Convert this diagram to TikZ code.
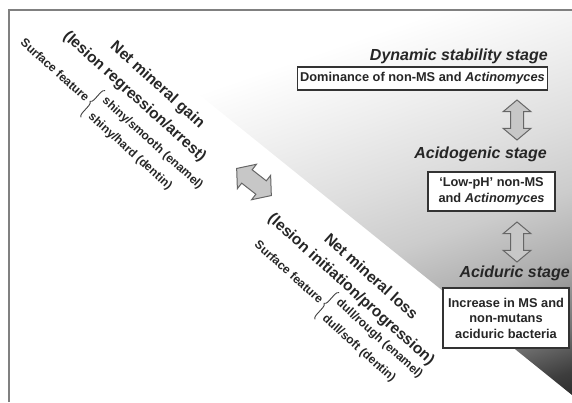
\documentclass[tikz,border=0pt]{standalone}
\usepackage{fontspec}
\setmainfont{Liberation Sans}
\usetikzlibrary{shapes.arrows,decorations.pathreplacing}

\pgfdeclareverticalshading{stageshade}{100bp}{color(0bp)=(black!85); color(17bp)=(black!85); color(21bp)=(black!76); color(26bp)=(black!55); color(34bp)=(black!32); color(42bp)=(black!20); color(50bp)=(black!13); color(58bp)=(black!7); color(68bp)=(white); color(100bp)=(white)}

\begin{document}
\begin{tikzpicture}[x=1pt, y=1pt,
    stagetitle/.style={font=\fontsize{16}{19}\selectfont\bfseries\itshape, text=black!85, inner sep=0pt},
    stagebox/.style={draw=black!80, line width=1.1pt, fill=white, align=center, text=black!85,
      font=\fontsize{12.8}{15.5}\selectfont\bfseries, inner sep=3pt},
    swaparrow/.style={double arrow, draw=black!60, fill=black!22, line width=1pt, inner xsep=0pt,
      minimum height=40pt, double arrow tip angle=100, double arrow head extend=7.5pt},
    heading/.style={text=black!85, font=\fontsize{15.5}{18}\selectfont\bfseries, inner sep=0pt},
    feature/.style={text=black!85, font=\fontsize{12}{14}\selectfont\bfseries, inner sep=0pt},
    featbrace/.style={decorate, decoration={brace, amplitude=4pt}, draw=black!75, line width=0.9pt}]
    \useasboundingbox (0,0) rectangle (572,402);

    % shaded part and frame
    \shade[shading=stageshade, shading angle=19] (94,392) -- (572,392) -- (572,7) -- cycle;
    \draw[black!50, line width=1.2pt] (9,0) -- (9,392) -- (572,392);

    % ecological stages
    \node[stagetitle, anchor=east] (dyntitle) at (548,346) {Dynamic stability stage};
    \node[stagebox, minimum width=247pt, minimum height=23pt] (dynbox) at (422.5,323.5) {Dominance of non-MS and \textit{Actinomyces}};
    \node[swaparrow, rotate=90, inner ysep=6pt] (arrowA) at (517,282) {};
    \node[stagetitle, anchor=east] (acidotitle) at (547,248) {Acidogenic stage};
    \node[stagebox, minimum width=127pt, minimum height=39pt] (acidobox) at (491.5,210.5) {`Low-pH' non-MS\\and \textit{Actinomyces}};
    \node[swaparrow, rotate=90, inner ysep=6pt] (arrowB) at (517,160) {};
    \node[stagetitle, anchor=east] (aciduritle) at (570,129) {Aciduric stage};
    \node[stagebox, minimum width=126pt, minimum height=60pt] (aciduribox) at (506,84) {Increase in MS and\\non-mutans\\aciduric bacteria};

    % gain <-> loss
    \node[swaparrow, rotate=-38, inner ysep=8pt, minimum height=44pt, double arrow head extend=7pt] (arrowC) at (254,220) {};

    % net mineral gain
    \begin{scope}[shift={(93,298)}, rotate=-42, transform shape]
        \node[heading] (gainnet) at (35,57) {Net mineral gain};
        \node[heading] (gainlesion) at (26,33) {(lesion regression/arrest)};
        \node[feature, anchor=east] (gainsurf) at (-7,0) {Surface feature};
        \node[feature, anchor=west] (gainenamel) at (5,10.5) {shiny/smooth (enamel)};
        \node[feature, anchor=west] (gaindentin) at (5,-10.5) {shiny/hard (dentin)};
        \draw[featbrace] (0,-18) -- (0,18);
    \end{scope}

    % net mineral loss
    \begin{scope}[shift={(327,96)}, rotate=-42, transform shape]
        \node[heading] (lossnet) at (13,52) {Net mineral loss};
        \node[heading] (losslesion) at (7,28) {(lesion initiation/progression)};
        \node[feature, anchor=east] (losssurf) at (-7,0) {Surface feature};
        \node[feature, anchor=west] (lossenamel) at (5,10.5) {dull/rough (enamel)};
        \node[feature, anchor=west] (lossdentin) at (5,-10.5) {dull/soft (dentin)};
        \draw[featbrace] (0,-18) -- (0,18);
    \end{scope}
\end{tikzpicture}
\end{document}
